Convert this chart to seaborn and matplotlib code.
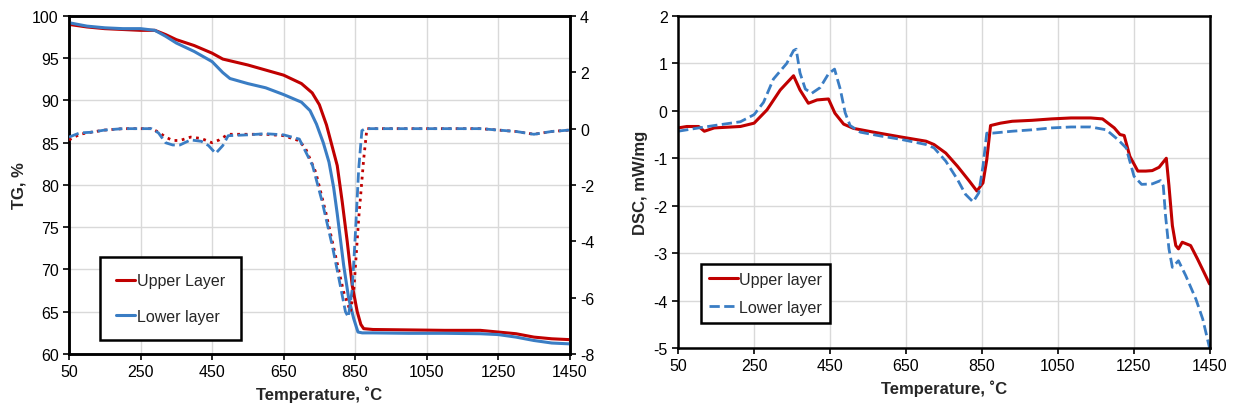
import numpy as np
import seaborn as sns
import matplotlib.pyplot as plt

# TG (%), left axis of left panel
tg_up_t = [50, 100, 150, 200, 250, 290, 320, 350, 400, 450, 480, 500, 550, 600, 650, 700,
           730, 750, 770, 785, 800, 814, 828, 842, 856, 866, 874, 900, 1000, 1100,
           1200, 1250, 1300, 1350, 1400, 1450]
tg_up = [99.0, 98.7, 98.5, 98.4, 98.3, 98.3, 97.8, 97.2, 96.5, 95.6, 94.9, 94.7, 94.2, 93.6,
         93.0, 92.0, 90.9, 89.5, 87.1, 84.7, 82.3, 78.0, 73.3, 68.1, 65.0, 63.5, 63.0,
         62.9, 62.85, 62.8, 62.8, 62.6, 62.4, 62.0, 61.8, 61.7]
tg_lo_t = [50, 100, 150, 200, 250, 290, 320, 350, 400, 450, 480, 500, 550, 600, 650, 700,
           724, 742, 761, 777, 790, 800, 818, 832, 846, 858, 870, 900, 1000, 1100,
           1200, 1250, 1300, 1350, 1400, 1450]
tg_lo = [99.2, 98.8, 98.6, 98.5, 98.5, 98.3, 97.6, 96.8, 95.8, 94.6, 93.3, 92.6, 92.0, 91.5,
         90.7, 89.8, 88.8, 87.2, 85.0, 82.7, 79.7, 76.6, 70.5, 66.6, 64.2, 62.6, 62.5,
         62.5, 62.45, 62.45, 62.4, 62.3, 62.0, 61.6, 61.3, 61.2]

# DTG, right axis of left panel
dtg_up_t = [50, 80, 110, 150, 200, 280, 300, 320, 340, 360, 390, 420, 450, 470, 495, 550,
            600, 650, 694, 712, 740, 768, 795, 818, 837, 846, 860, 874, 883, 1000, 1200,
            1250, 1300, 1350, 1400, 1450]
dtg_up = [-0.4, -0.2, -0.13, -0.05, 0.0, 0.0, -0.12, -0.3, -0.42, -0.42, -0.3, -0.35, -0.5,
          -0.4, -0.2, -0.2, -0.2, -0.25, -0.43, -0.72, -1.55, -2.97, -4.5, -5.8, -6.5, -5.8,
          -3.2, -1.08, 0.0, 0.0, 0.0, -0.05, -0.1, -0.2, -0.1, -0.05]
dtg_lo_t = [50, 80, 110, 150, 200, 280, 300, 320, 340, 360, 390, 420, 440, 460, 480, 495,
            550, 600, 650, 694, 731, 758, 786, 805, 823, 831, 842, 851, 860, 869, 878, 1000,
            1200, 1250, 1300, 1350, 1400, 1450]
dtg_lo = [-0.3, -0.15, -0.13, -0.05, 0.0, 0.0, -0.15, -0.5, -0.58, -0.58, -0.4, -0.45, -0.6,
          -0.88, -0.6, -0.25, -0.22, -0.18, -0.22, -0.37, -1.31, -2.6, -4.15, -5.34, -6.5,
          -6.69, -5.7, -3.67, -1.43, -0.07, 0.0, 0.0, 0.0, -0.05, -0.1, -0.2, -0.1, -0.05]

# DSC (mW/mg), right panel
dsc_up_t = [50, 73, 104, 119, 145, 214, 250, 284, 319, 354, 371, 393, 416, 446, 463, 486,
            512, 565, 636, 703, 724, 755, 786, 817, 837, 853, 863, 873, 899,
            930, 982, 1034, 1085, 1137, 1168, 1199, 1214, 1225, 1240, 1261, 1282, 1299,
            1317, 1336, 1343, 1352, 1361, 1368, 1378, 1400, 1418, 1435, 1450]
dsc_up = [-0.36, -0.33, -0.33, -0.43, -0.36, -0.33, -0.26, 0.02, 0.44, 0.74, 0.44, 0.16,
          0.23, 0.25, -0.05, -0.28, -0.37, -0.45, -0.55, -0.64, -0.71, -0.89,
          -1.17, -1.48, -1.69, -1.52, -1.03, -0.31, -0.26, -0.22, -0.2, -0.17, -0.15, -0.15,
          -0.17, -0.36, -0.5, -0.52, -0.96, -1.27, -1.27, -1.26, -1.19, -1.0, -1.58, -2.42,
          -2.84, -2.91, -2.77, -2.84, -3.12, -3.4, -3.65]
dsc_lo_t = [50, 104, 145, 214, 250, 275, 301, 336, 354, 361, 371, 385, 402, 424, 446, 462,
            477, 490, 503, 530, 583, 636, 703, 724, 755, 786, 807, 827, 842, 853,
            863, 878, 930, 982, 1034, 1085, 1137, 1178, 1209, 1230, 1251, 1271, 1299, 1321,
            1328, 1334, 1343, 1352, 1368, 1387, 1414, 1432, 1450]
dsc_lo = [-0.43, -0.36, -0.31, -0.23, -0.08, 0.18, 0.67, 1.0, 1.27, 1.3, 0.8, 0.46, 0.37,
          0.49, 0.78, 0.88, 0.46, -0.04, -0.31, -0.45, -0.53, -0.6, -0.71, -0.78,
          -1.06, -1.45, -1.76, -1.92, -1.73, -1.17, -0.47, -0.47, -0.43, -0.4, -0.36, -0.34,
          -0.34, -0.4, -0.61, -0.78, -1.38, -1.55, -1.54, -1.47, -1.58, -2.21, -2.91, -3.3,
          -3.16, -3.47, -3.97, -4.39, -5.0]

x_ticks = [50, 250, 450, 650, 850, 1050, 1250, 1450]
red = "#C00000"
blue = "#3A7DC4"

sns.set_style("whitegrid")
plt.rcParams["font.family"] = ["Liberation Sans", "DejaVu Sans"]
plt.rcParams["font.size"] = 11
plt.rcParams["axes.unicode_minus"] = False

fig = plt.figure(figsize=(12.33, 4.14), dpi=100)
ax1 = fig.add_axes([0.056, 0.1425, 0.406, 0.8165])
ax2 = ax1.twinx()
ax3 = fig.add_axes([0.550, 0.157, 0.431, 0.802])

sns.lineplot(x=tg_up_t, y=tg_up, color=red, lw=2.2, ax=ax1, label="Upper Layer", zorder=3)
sns.lineplot(x=tg_lo_t, y=tg_lo, color=blue, lw=2.2, ax=ax1, label="Lower layer", zorder=3)
sns.lineplot(x=dtg_up_t, y=dtg_up, color=red, lw=2, ax=ax2, linestyle=":", zorder=3)
sns.lineplot(x=dtg_lo_t, y=dtg_lo, color=blue, lw=2, ax=ax2, linestyle="--", zorder=3)

sns.lineplot(x=dsc_up_t, y=dsc_up, color=red, lw=2.2, ax=ax3, label="Upper layer")
sns.lineplot(x=dsc_lo_t, y=dsc_lo, color=blue, lw=2, ax=ax3, linestyle="--", label="Lower layer")

for ax in (ax1, ax3):
    ax.set_xlim(50, 1450)
    ax.set_xticks(x_ticks)
    ax.set_xlabel("Temperature, ˚C", fontweight="bold", fontsize=12)
    ax.grid(True, color="#d9d9d9", lw=1)
    ax.tick_params(axis="both", direction="out", length=4, width=1.2, colors="black",
                   labelsize=11.5, bottom=True, left=True)

ax1.set_ylim(60, 100)
ax1.set_yticks(np.arange(60, 101, 5))
ax1.set_ylabel("TG, %", fontweight="bold", fontsize=12)

ax2.set_ylim(-8, 4)
ax2.set_yticks(np.arange(-8, 5, 2))
ax2.grid(False)
ax2.set_ylabel("")
ax2.tick_params(axis="y", direction="out", length=4, width=1.2, colors="black",
                labelsize=11.5, right=True)

ax3.set_ylim(-5, 2)
ax3.set_yticks(np.arange(-5, 3, 1))
ax3.set_ylabel("DSC, mW/mg", fontweight="bold", fontsize=12)

for ax in (ax1, ax2, ax3):
    for s in ax.spines.values():
        s.set_color("black")
        s.set_linewidth(1.8)

leg1 = ax1.legend(loc="upper left", bbox_to_anchor=(0.046, 0.31), fancybox=False,
                  edgecolor="black", framealpha=1, handlelength=1.2, handletextpad=0.1,
                  labelspacing=1.3, borderpad=1.0, fontsize=11.5)
leg1.get_frame().set_linewidth(1.8)
leg3 = ax3.legend(loc="upper left", bbox_to_anchor=(0.028, 0.277), fancybox=False,
                  edgecolor="black", framealpha=1, handlelength=1.8, handletextpad=0.1,
                  labelspacing=0.8, borderpad=0.5, fontsize=11.5)
leg3.get_frame().set_linewidth(1.8)

fig.savefig("out.png", dpi=100)
